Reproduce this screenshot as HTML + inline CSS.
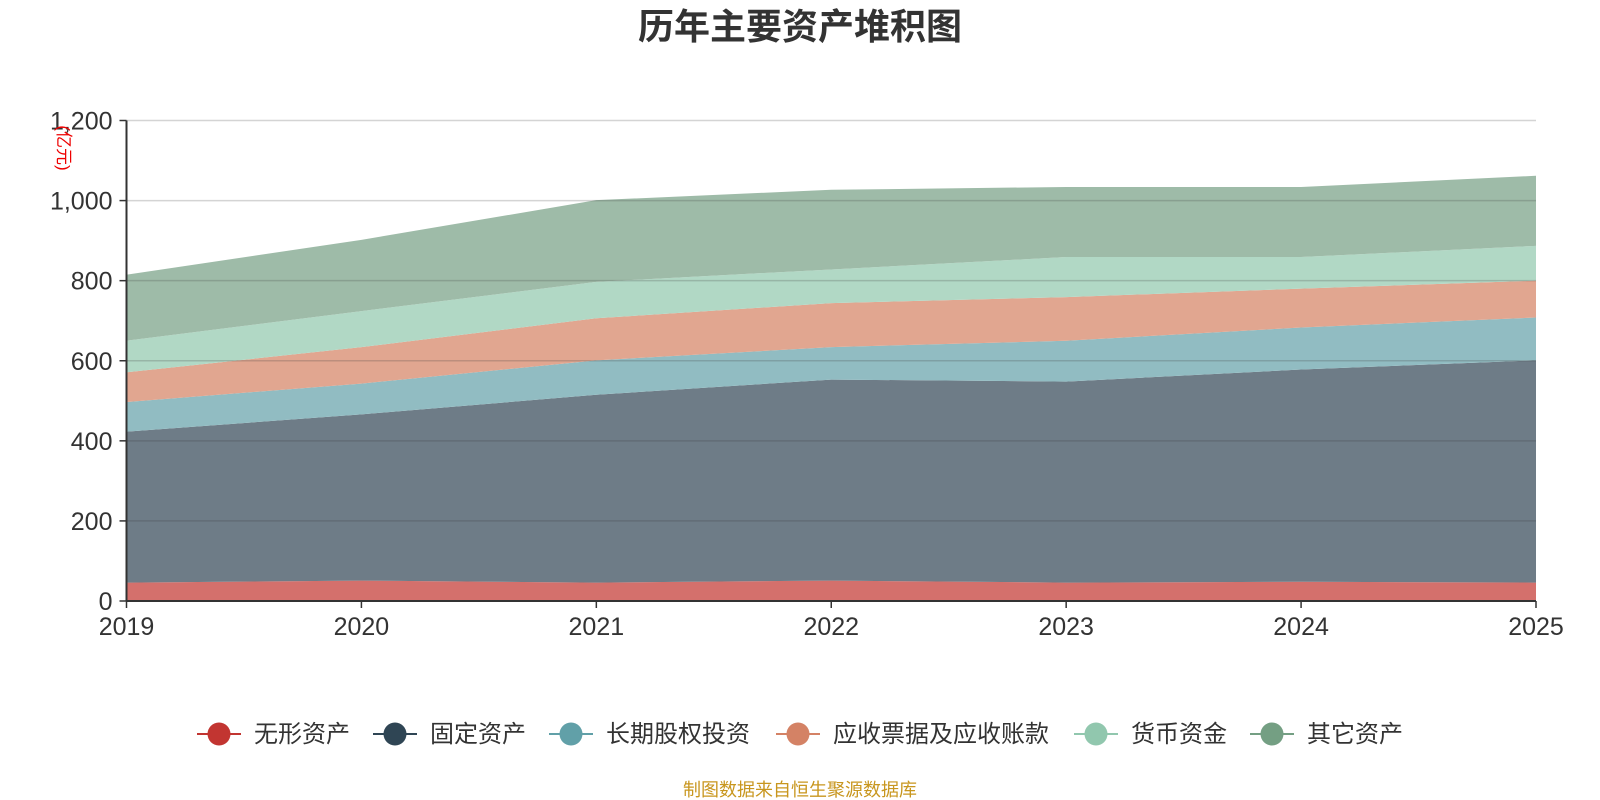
<!DOCTYPE html>
<html><head><meta charset="utf-8">
<style>
html,body{margin:0;padding:0;background:#fff;}
body{width:1600px;height:800px;overflow:hidden;position:relative;font-family:"Liberation Sans","Noto Sans CJK SC",sans-serif;}
svg{position:absolute;left:0;top:0;}
</style></head><body>
<svg id="chart" width="1600" height="800">
<text x="800" y="39" text-anchor="middle" font-size="36" font-weight="bold" fill="#333" font-family="Liberation Sans, Noto Sans CJK SC, sans-serif">历年主要资产堆积图</text>
<g id="areas"></g>
<g id="grid"></g>
<g id="axes"></g>
<text transform="translate(58,148) rotate(90)" text-anchor="middle" font-size="17" fill="#e00" font-family="Liberation Sans, Noto Sans CJK SC, sans-serif">(亿元)</text>
<g id="legend"></g>
<text x="800" y="796" text-anchor="middle" font-size="18" fill="#c8961e" font-family="Liberation Sans, Noto Sans CJK SC, sans-serif">制图数据来自恒生聚源数据库</text>
</svg>
<script>
const years = ["2019","2020","2021","2022","2023","2024","2025"];
const seriesNames = ["无形资产","固定资产","长期股权投资","应收票据及应收账款","货币资金","其它资产"];
const intangible = [46,51,46,51,46,48,46];
const fixedAssets = [377,415,469,502,502,530,555];
const longTermEquity = [74,77,86,81,102,105,107];
const receivables = [74,91,105,110,109,97,92];
const cash = [79,90,91,84,100,79,87];
const otherAssets = [165,178,204,199,175,175,175];
const yTicks = [0,200,400,600,800,1000,1200];
const yTickLabels = ["0","200","400","600","800","1,000","1,200"];

const NS="http://www.w3.org/2000/svg";
const X0=126.5,X1=1536,Y0=601,Y1=120.5,YMAX=1200;
const xs=i=>X0+(X1-X0)*i/(years.length-1);
const ys=v=>Y0-(Y0-Y1)*v/YMAX;
const lineColors=["#c23531","#2f4554","#61a0a8","#d48265","#91c7ae","#749f83"];
const fillColors=["#d4706c","#6e7c87","#91bcc2","#e1a690","#b1d8c5","#9ebba8"];
function mk(t,a,p){const e=document.createElementNS(NS,t);for(const k in a)e.setAttribute(k,a[k]);p.appendChild(e);return e;}
const grid=document.getElementById('grid'),areas=document.getElementById('areas'),axes=document.getElementById('axes'),legend=document.getElementById('legend');
const all=[intangible,fixedAssets,longTermEquity,receivables,cash,otherAssets];
let base=years.map(()=>0);
all.forEach((s,si)=>{
  const top=base.map((b,i)=>b+s[i]);
  let d='M'+years.map((_,i)=>xs(i)+','+ys(top[i])).join(' L');
  for(let i=years.length-1;i>=0;i--) d+=' L'+xs(i)+','+ys(base[i]);
  d+=' Z';
  const p=mk('path',{d:d,fill:fillColors[si]},areas);
  
  
  base=top;
});
yTicks.forEach((v,i)=>{
  if(v>0){const l=mk('line',{x1:X0,x2:X1,y1:ys(v),y2:ys(v),stroke:'rgba(60,60,60,0.22)','stroke-width':1.5},grid);
  
  }
  const t=mk('line',{x1:X0-7,x2:X0,y1:ys(v),y2:ys(v),stroke:'#333','stroke-width':1.5},axes);
  
  
  const tx=mk('text',{x:X0-14,y:ys(v)+9,'text-anchor':'end','font-size':25,fill:'#333'},axes);
  tx.textContent=yTickLabels[i];
  
  
});
const ax=mk('line',{x1:X0,x2:X1,y1:Y0,y2:Y0,stroke:'#333','stroke-width':2},axes);


const ay=mk('line',{x1:X0,x2:X0,y1:Y1,y2:Y0,stroke:'#333','stroke-width':2},axes);


years.forEach((y,i)=>{
  const t=mk('line',{x1:xs(i),x2:xs(i),y1:Y0,y2:Y0+7,stroke:'#333','stroke-width':1.5},axes);
  
  
  const tx=mk('text',{x:xs(i),y:635,'text-anchor':'middle','font-size':25,fill:'#333'},axes);
  tx.textContent=y;
  
  
});
const legX=[197,373,549,776,1074,1250];
seriesNames.forEach((n,i)=>{
  const g=mk('g',{},legend);
  
  
  const x=legX[i];
  mk('line',{x1:x,x2:x+44,y1:734,y2:734,stroke:lineColors[i],'stroke-width':2},g);
  mk('circle',{cx:x+22,cy:734,r:11.5,fill:lineColors[i]},g);
  const t=mk('text',{x:x+57,y:742,'font-size':24,fill:'#333'},g);
  t.textContent=n;
});
</script>
</body></html>
